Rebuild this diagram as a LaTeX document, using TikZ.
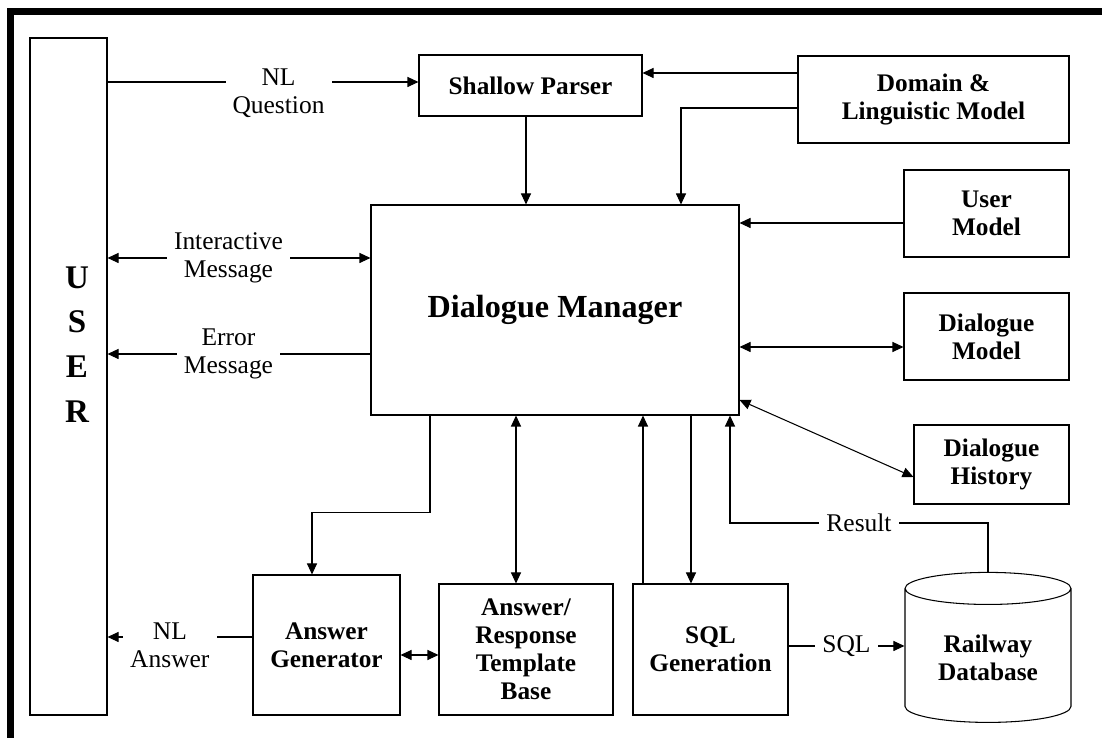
\documentclass[tikz,border=0pt]{standalone}
\usepackage{fontspec}
\setmainfont{Liberation Serif}
\usetikzlibrary{arrows.meta,shapes.geometric}

\tikzset{
  box/.style={draw, line width=0.6pt, align=center, inner sep=2pt,
    font=\fontsize{14.4}{16}\selectfont\bfseries},
  lbl/.style={fill=white, align=center, inner xsep=4pt, inner ysep=0pt,
    font=\fontsize{14.5}{16}\selectfont},
  tip/.tip={Triangle[length=2.2mm,width=2mm]},
  conn/.style={line width=0.6pt, -tip},
  both/.style={line width=0.6pt, tip-tip},
  plain/.style={line width=0.6pt}
}

\begin{document}
\begin{tikzpicture}
  \useasboundingbox (0,0) rectangle (22.04,14.76);
  % frame
  \draw[line width=0.14cm] (0.21,0) -- (0.21,14.53) -- (22.04,14.53);

  % blocks
  \node[box, minimum width=1.54cm, minimum height=13.54cm,
    label={[align=center, font=\fontsize{18.8}{25.5}\selectfont\bfseries,
      xshift=0.17cm, yshift=0.64cm]center:U\\S\\E\\R}] (user) at (1.37,7.23) {};
  \node[box, minimum width=4.46cm, minimum height=1.22cm] (parser) at (10.61,13.05) {Shallow Parser};
  \node[box, minimum width=5.42cm, minimum height=1.74cm] (domain) at (18.67,12.77) {Domain \&\\Linguistic Model};
  \node[box, minimum width=7.36cm, minimum height=4.2cm,
    font=\fontsize{18.3}{20}\selectfont\bfseries] (manager) at (11.10,8.56) {Dialogue Manager};
  \node[box, minimum width=3.3cm, minimum height=1.74cm] (usermodel) at (19.73,10.49) {User\\Model};
  \node[box, minimum width=3.3cm, minimum height=1.74cm] (dmodel) at (19.73,8.03) {Dialogue\\Model};
  \node[box, minimum width=3.1cm, minimum height=1.58cm] (history) at (19.83,5.47) {Dialogue\\History};
  \node[box, minimum width=2.94cm, minimum height=2.8cm] (generator) at (6.53,1.86) {Answer\\Generator};
  \node[box, minimum width=3.48cm, minimum height=2.62cm] (template) at (10.52,1.77) {Answer/\\Response\\Template\\Base};
  \node[box, minimum width=3.1cm, minimum height=2.62cm] (sqlgen) at (14.21,1.77) {SQL\\Generation};
  \node[box, cylinder, shape border rotate=90, aspect=0.3,
    minimum width=3.32cm, minimum height=3.0cm] (database) at (19.76,1.6) {Railway\\Database};
  \coordinate (res) at (14.6,4.3);

  % connections
  \draw[conn] (user.east |- 0,13.12) -- node[lbl, pos=0.55, yshift=-0.22cm] {NL\\Question} (parser.west |- 0,13.12);
  \draw[conn] ([yshift=0.53cm]domain.west) -- ([yshift=0.53cm]domain.west -| parser.east);
  \draw[conn] ([yshift=-0.17cm]domain.west) -| ([xshift=2.52cm]manager.north);
  \draw[conn] ([xshift=-0.09cm]parser.south) -- ([xshift=-0.09cm]parser.south |- manager.north);
  \draw[conn] ([yshift=-0.19cm]usermodel.west) -- ([yshift=-0.19cm]usermodel.west -| manager.east);
  \draw[both] ([yshift=-0.21cm]dmodel.west) -- ([yshift=-0.21cm]dmodel.west -| manager.east);
  \draw[both] ([yshift=-1.8cm]manager.east) -- ([yshift=-0.25cm]history.west);
  \draw[both] ([yshift=1.04cm]manager.west) -- node[lbl, pos=0.54] {Interactive\\Message} ([yshift=1.04cm]manager.west -| user.east);
  \draw[conn] ([yshift=-0.88cm]manager.west) -- node[lbl, pos=0.54] {Error\\Message} ([yshift=-0.88cm]manager.west -| user.east);
  \draw[conn] ([xshift=-2.5cm]manager.south) |- ([xshift=-0.29cm, yshift=1.24cm]generator.north) -- ([xshift=-0.29cm]generator.north);
  \draw[both] ([xshift=-0.2cm]template.north) -- ([xshift=-0.2cm]template.north |- manager.south);
  \draw[conn] ([xshift=-1.35cm]sqlgen.north) -- ([xshift=-1.35cm]sqlgen.north |- manager.south);
  \draw[conn] ([xshift=-0.39cm]manager.south -| sqlgen.north) -- ([xshift=-0.39cm]sqlgen.north);
  \draw[both] ([yshift=-0.2cm]generator.east) -- ([yshift=-0.2cm]generator.east -| template.west);
  \draw[conn] ([yshift=0.16cm]generator.west) -- node[lbl, pos=0.57, yshift=-0.16cm] {NL\\Answer} ([yshift=0.16cm]generator.west -| user.east);
  \draw[conn] ([yshift=0.07cm]sqlgen.east) -- node[lbl] {SQL} ([yshift=0.07cm]sqlgen.east -| database.west);
  \draw[conn] (database.north) |- node[lbl, pos=0.75] {Result} (res) -- (res |- manager.south);
\end{tikzpicture}
\end{document}
